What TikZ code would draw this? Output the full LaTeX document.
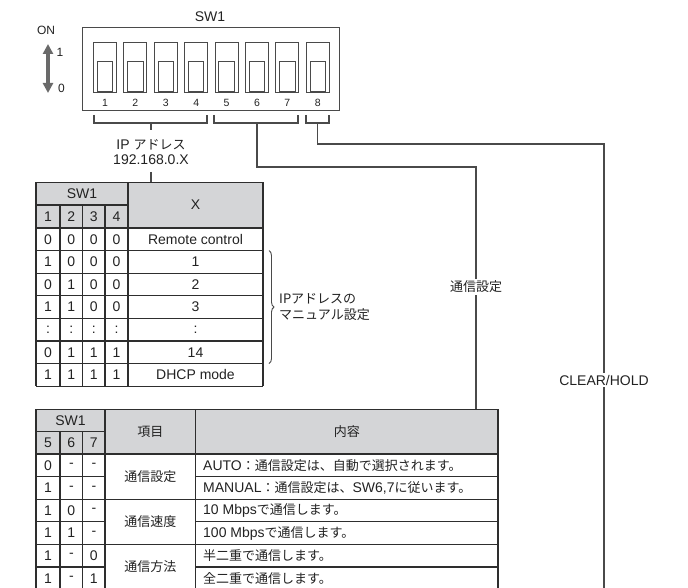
\documentclass[tikz,border=0pt]{standalone}
\usepackage{fontspec}
\setmainfont{Liberation Sans}
\newfontfamily\jpfont{Noto Sans CJK JP}
\newcommand\J[1]{{\jpfont\fontsize{13}{16}\selectfont #1}}
\usetikzlibrary{arrows.meta,decorations.pathreplacing}
\definecolor{ln}{HTML}{4A4A4A}
\definecolor{tl}{HTML}{2E2E2E}
\definecolor{hdr}{HTML}{D4D5D7}
\definecolor{arr}{HTML}{6A6A6A}
\definecolor{tx}{HTML}{222222}
\begin{document}
\begin{tikzpicture}[x=1pt,y=-1pt,
  every node/.style={font=\fontsize{14}{16}\selectfont, inner sep=0pt, text=tx},
  small/.style={font=\fontsize{12}{14}\selectfont},
  tiny/.style={font=\fontsize{10.5}{12}\selectfont},
  wire/.style={draw=ln, line width=1.1pt},
  grid/.style={draw=tl, line width=1.3pt},
  swbox/.style={draw=ln, line width=1pt},
  wlabel/.style={fill=white, inner sep=1.5pt},
]
\useasboundingbox (0,0) rectangle (688,588);
\clip (0,0) rectangle (688,588);

% ---------------- DIP switch ----------------
\node (sw1) at (210,17) {SW1};
\draw[swbox] (82.7,27.3) rectangle (339.5,110.7);
\foreach \i in {1,...,8} {
  \pgfmathsetmacro\xa{93.5+30.4*(\i-1)}
  \draw[swbox] (\xa,42.3) rectangle ++(23,50.4);
  \draw[swbox] (\xa+3.75,61.7) rectangle ++(15.5,29.6);
  \node[tiny] (num\i) at (\xa+11.5,102.5) {\i};
}
\node[small] (on) at (46,30) {ON};
\node[small] (one) at (60,52) {1};
\node[small] (zero) at (61.5,88) {0};
\coordinate (arT) at (48,44);
\coordinate (arB) at (48,93);
\draw[draw=arr, line width=3.6pt, {Triangle[width=10pt,length=10pt]}-{Triangle[width=10pt,length=10pt]}] (arT) -- (arB);

% ---------------- brackets and wires ----------------
\draw[wire] (94,115) -- (94,123) -- (207,123) -- (207,115);
\draw[wire] (214,115) -- (214,123) -- (298,123) -- (298,115);
\draw[wire] (306,115) -- (306,123) -- (329,123) -- (329,115);
\coordinate (bc1) at (151,123);
\coordinate (bc2) at (257,123);
\coordinate (bc3) at (317.5,123);

\node[align=center, font=\fontsize{14}{15.5}\selectfont] (ip) at (151,152) {IP \J{アドレス}\\192.168.0.X};
\coordinate (ipt) at (151,130);
\coordinate (ipb) at (151,172);
\coordinate (t1top) at (151,182.3);
\coordinate (t2top) at (476,409.3);
\coordinate (bottom) at (604,590);
\draw[wire] (bc1) -- (ipt);
\draw[wire] (ipb) -- (t1top);
\draw[wire] (bc2) -- (257,167) -- (476,167) -- (t2top);
\draw[wire] (bc3) -- (317.5,144) -- (604,144) -- (bottom);
\node[wlabel] (lbl1) at (476,287) {\J{通信設定}};
\node[wlabel] (lbl2) at (604,380) {CLEAR/HOLD};

% ---------------- Table 1 ----------------
\fill[hdr] (36,182.3) rectangle (263,228);
\foreach \y in {182.3,228,250.6,273.2,295.8,318.4,341,363.6,386.2}
  \draw[grid] (36,\y) -- (263,\y);
\draw[grid] (36,205) -- (128,205);
\draw[grid] (36,182.3) -- (36,386.2);
\draw[grid] (128,182.3) -- (128,386.2);
\draw[grid] (263,182.3) -- (263,386.2);
\foreach \x in {60,82.7,105}
  \draw[grid] (\x,205) -- (\x,386.2);
\node (h1sw) at (82,194) {SW1};
\node (h1x) at (195.5,205) {X};
\foreach \c [count=\j] in {48,71.35,93.85,116.5}
  \node (h1c\j) at (\c,217) {\j};
\foreach \a/\b/\c/\d/\e [count=\i] in {0/0/0/0/Remote control, 1/0/0/0/1, 0/1/0/0/2, 1/1/0/0/3, :/:/:/:/:, 0/1/1/1/14, 1/1/1/1/DHCP mode} {
  \pgfmathsetmacro\yy{228+22.6*(\i-0.5)}
  \node (ra\i) at (48,\yy) {\a};
  \node (rb\i) at (71.35,\yy) {\b};
  \node (rc\i) at (93.85,\yy) {\c};
  \node (rd\i) at (116.5,\yy) {\d};
  \node (re\i) at (195.5,\yy) {\e};
}
\coordinate (brT) at (269,250.6);
\coordinate (brB) at (269,363.6);
\draw[draw=ln, line width=0.9pt, decorate, decoration={brace, amplitude=5pt}] (brT) -- (brB);
\node[anchor=west, align=left, font=\jpfont\fontsize{13}{16}\selectfont] (manual) at (279,307) {IPアドレスの\\マニュアル設定};

% ---------------- Table 2 ----------------
\fill[hdr] (36,409.3) rectangle (498,454);
\foreach \y in {409.3,454,499.2,544.4,589.6}
  \draw[grid] (36,\y) -- (498,\y);
\foreach \y in {476.6,521.8,567} {
  \draw[grid] (36,\y) -- (105,\y);
  \draw[grid] (195.7,\y) -- (498,\y);
}
\draw[grid] (36,431.5) -- (105,431.5);
\foreach \x in {36,105,195.7,498}
  \draw[grid] (\x,409.3) -- (\x,589.6);
\foreach \x in {60,82.7}
  \draw[grid] (\x,431.5) -- (\x,589.6);
\node (h2sw) at (70.5,420.4) {SW1};
\foreach \c/\t [count=\j] in {48/5,71.35/6,93.85/7}
  \node (h2c\j) at (\c,442.7) {\t};
\node (h2item) at (150.35,431.6) {\J{項目}};
\node (h2cont) at (346.85,431.6) {\J{内容}};
\foreach \a/\b/\c [count=\i] in {0/-/-, 1/-/-, 1/0/-, 1/1/-, 1/-/0, 1/-/1} {
  \pgfmathsetmacro\yy{454+22.6*(\i-0.5)}
  \node (sa\i) at (48,\yy) {\a};
  \node (sb\i) at (71.35,\yy) {\b};
  \node (sc\i) at (93.85,\yy) {\c};
}
\node (it1) at (150.35,476.6) {\J{通信設定}};
\node (it2) at (150.35,521.8) {\J{通信速度}};
\node (it3) at (150.35,567) {\J{通信方法}};
\node[anchor=west] (ct1) at (203,465.3) {AUTO\J{：通信設定は、自動で選択されます。}};
\node[anchor=west] (ct2) at (203,487.9) {MANUAL\J{：通信設定は、}SW6,7\J{に従います。}};
\node[anchor=west] (ct3) at (203,510.5) {10 Mbps\J{で通信します。}};
\node[anchor=west] (ct4) at (203,533.1) {100 Mbps\J{で通信します。}};
\node[anchor=west] (ct5) at (203,555.7) {\J{半二重で通信します。}};
\node[anchor=west] (ct6) at (203,578.3) {\J{全二重で通信します。}};
\end{tikzpicture}
\end{document}
